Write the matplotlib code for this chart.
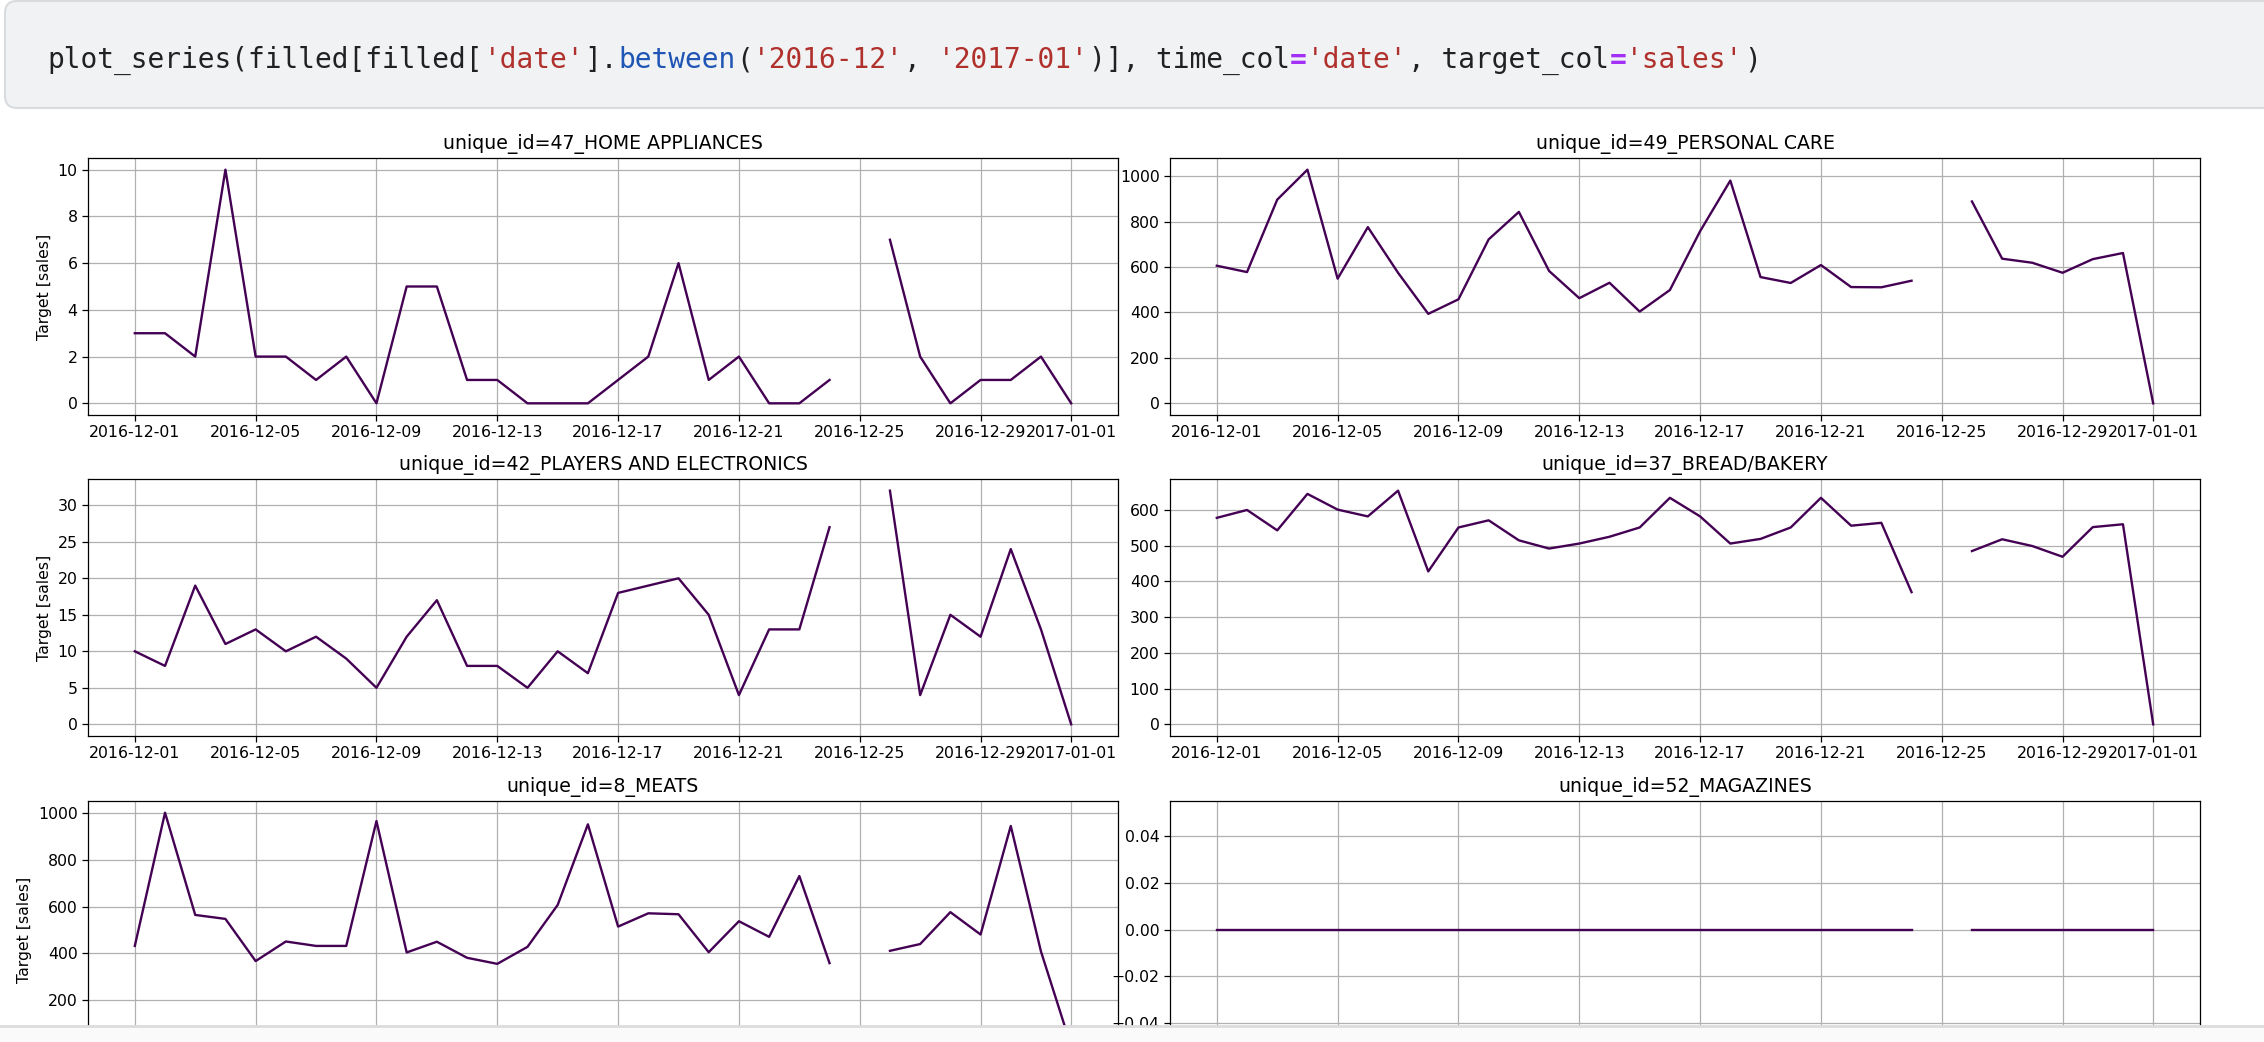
import numpy as np
import pandas as pd
import matplotlib
matplotlib.use('Agg')
import matplotlib.pyplot as plt
import matplotlib.dates as mdates
from matplotlib.patches import FancyBboxPatch, Rectangle

W, H = 2264, 1042
nan = np.nan

dates = pd.date_range('2016-12-01', '2017-01-01', freq='D')

home_appliances = [3, 3, 2, 10, 2, 2, 1, 2, 0, 5, 5, 1, 1, 0, 0, 0, 1, 2, 6, 1, 2, 0, 0, 1,
                   nan, 7, 2, 0, 1, 1, 2, 0]
personal_care = [606, 578, 897, 1029, 549, 776, 575, 394, 458, 722, 843, 583, 463, 531, 404, 499,
                 758, 981, 556, 530, 609, 512, 511, 540, nan, 889, 637, 619, 575, 635, 662, 0]
players_electronics = [10, 8, 19, 11, 13, 10, 12, 9, 5, 12, 17, 8, 8, 5, 10, 7, 18, 19, 20, 15,
                       4, 13, 13, 27, nan, 32, 4, 15, 12, 24, 13, 0]
bread_bakery = [578, 600, 543, 645, 601, 582, 654, 428, 551, 571, 515, 492, 506, 525, 551, 634,
                582, 506, 519, 551, 634, 556, 564, 370, nan, 485, 518, 499, 469, 552, 560, 0]
meats = [431, 1003, 564, 547, 366, 450, 431, 431, 967, 403, 449, 380, 354, 427, 607, 953,
         514, 571, 567, 404, 537, 470, 731, 357, nan, 410, 439, 576, 480, 946, 407, 0]
magazines = [0, 0, 0, 0, 0, 0, 0, 0, 0, 0, 0, 0, 0, 0, 0, 0, 0, 0, 0, 0, 0, 0, 0, 0,
             nan, 0, 0, 0, 0, 0, 0, 0]

titles = ['unique_id=47_HOME APPLIANCES', 'unique_id=49_PERSONAL CARE',
          'unique_id=42_PLAYERS AND ELECTRONICS', 'unique_id=37_BREAD/BAKERY',
          'unique_id=8_MEATS', 'unique_id=52_MAGAZINES']
series = [home_appliances, personal_care, players_electronics, bread_bakery, meats, magazines]

code_parts = [
    ("plot_series(filled[filled[", '#212121'), ("'date'", '#b0302c'), ("].", '#212121'),
    ("between", '#1f55b5'), ("(", '#212121'), ("'2016-12'", '#b0302c'), (", ", '#212121'),
    ("'2017-01'", '#b0302c'), (")], time_col", '#212121'), ("=", '#a230f5'),
    ("'date'", '#b0302c'), (", target_col", '#212121'), ("=", '#a230f5'),
    ("'sales'", '#b0302c'), (")", '#212121'),
]

line_color = '#440154'

fig = plt.figure(figsize=(W / 100, H / 100), dpi=100)
fig.patch.set_facecolor('white')

# background layer in pixel coordinates (code cell)
bg = fig.add_axes([0, 0, 1, 1], zorder=-5)
bg.set_xlim(0, W)
bg.set_ylim(H, 0)
bg.axis('off')
bg.add_patch(FancyBboxPatch((5, 1), W + 40, 107, boxstyle='round,pad=0,rounding_size=12',
                            facecolor='#f1f2f4', edgecolor='#d9dbde', linewidth=1.5))

char_w = 16.8
x = 47
for txt, col in code_parts:
    weight = 'bold' if txt == '=' else 'normal'
    bg.text(x, 68, txt, color=col, fontsize=20.1, family='DejaVu Sans Mono',
            va='baseline', ha='left', weight=weight)
    x += len(txt) * char_w

# the chart panels
col_x = [88, 1170]
row_y = [158, 479, 801]
ax_w, ax_h = 1030, 257

for i, (title, vals) in enumerate(zip(titles, series)):
    r, c = divmod(i, 2)
    x0, y0 = col_x[c], row_y[r]
    ax = fig.add_axes([x0 / W, 1 - (y0 + ax_h) / H, ax_w / W, ax_h / H])
    ax.plot(dates, vals, color=line_color, linewidth=1.7)
    ax.set_title(title, fontsize=13.6, pad=6.8)
    if c == 0:
        ax.set_ylabel('Target [sales]', fontsize=11.3)
    ax.xaxis.set_major_locator(mdates.DayLocator(bymonthday=[1, 5, 9, 13, 17, 21, 25, 29]))
    ax.xaxis.set_major_formatter(mdates.DateFormatter('%Y-%m-%d'))
    ax.tick_params(labelsize=11.3, length=4, width=0.9)
    if r == 2:
        # date labels of the last row fall below the visible area
        ax.tick_params(axis='x', labelbottom=False)
    ax.grid(True, color='#b0b0b0', linewidth=0.9)
    for sp in ax.spines.values():
        sp.set_linewidth(0.9)

# overlay band at the bottom edge
fg = fig.add_axes([0, 0, 1, 1], zorder=10)
fg.set_xlim(0, W)
fg.set_ylim(H, 0)
fg.axis('off')
fg.patch.set_alpha(0)
fg.add_patch(Rectangle((0, 1026), W, 20, facecolor='#fafafa', edgecolor='none'))
fg.plot([0, W], [1026, 1026], color='#dcdcdc', linewidth=2)

fig.savefig('out.png', dpi=100)
